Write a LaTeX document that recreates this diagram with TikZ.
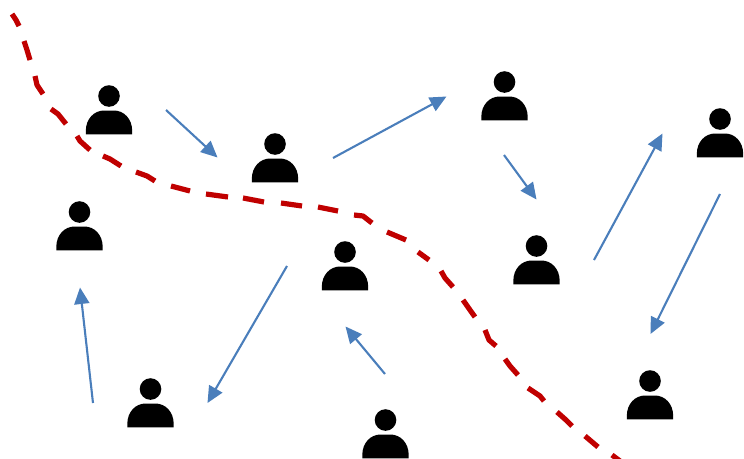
\documentclass[tikz,border=0pt]{standalone}
\usetikzlibrary{arrows.meta}
\definecolor{arrowblue}{HTML}{4A7EBB}
\definecolor{boundaryred}{HTML}{C00000}
\tikzset{
  x=1pt,y=-1pt,
  flow/.style={draw=arrowblue,line width=2.1pt,-{Triangle[length=16.5pt,width=15pt]}},
  boundary/.style={draw=boundaryred,line width=5.2pt,line join=round},
  person/.pic={
    \fill[black] (0,0) circle (10.8);
    \fill[black] (-23.2,38.4) -- (-23.2,35) .. controls (-23.2,23) and (-15,14.5) .. (-5,14.5)
      -- (5,14.5) .. controls (15,14.5) and (23.2,23) .. (23.2,35) -- (23.2,38.4) -- cycle;
  }
}
\begin{document}
\begin{tikzpicture}
\useasboundingbox (0,0) rectangle (744,458);
\clip (0,0) rectangle (744,458);
\foreach \n/\px/\py in {a/109/96,b/275/144,c/504.5/82,d/720/119,e/79.5/212,f/345/252,g/536.5/246,h/150.5/389,i/385.5/420,j/650/381}
  \pic (\n) at (\px,\py) {person};
\foreach \n/\px/\py in {a1/166/110,a2/217.5/157.5,b1/333/158,b2/446.5/96.5,c1/504/155,c2/536.5/199.5,d1/594/260,d2/662.5/133.5,e1/720/194,e2/650.5/334,f1/287/266,f2/207.5/403,g1/385/374,g2/345.5/326.5,h1/93/403,h2/80/287.5}
  \coordinate (\n) at (\px,\py);
\draw[flow] (a1) -- (a2);
\draw[flow] (b1) -- (b2);
\draw[flow] (c1) -- (c2);
\draw[flow] (d1) -- (d2);
\draw[flow] (e1) -- (e2);
\draw[flow] (f1) -- (f2);
\draw[flow] (g1) -- (g2);
\draw[flow] (h1) -- (h2);
\draw[boundary]
  (12,14) -- (16,20) -- (19,26)
  (24,41) -- (27,50) -- (30,60)
  (35,76) -- (37,85) -- (43,94)
  (51,109) -- (58,114) -- (66,124)
  (77,136) -- (80,141) -- (90,150)
  (103,156) -- (110,159) -- (121,166)
  (136,172) -- (147,176) -- (155,181)
  (171,186) -- (190,191)
  (206,194) -- (228,197)
  (243,198) -- (264,202)
  (281,203) -- (302,206)
  (318,207) -- (338,211)
  (354,215) -- (363,216) -- (372,223)
  (387,232) -- (406,240)
  (418,252) -- (429,260)
  (441,271) -- (445,278) -- (453,287)
  (463,300) -- (470,310) -- (475,317)
  (485,330) -- (489,340) -- (496,346)
  (505,359) -- (510,366) -- (518,375)
  (528,388) -- (540,396) -- (544,401)
  (557,412) -- (566,420) -- (572,426)
  (585,436) -- (598,447)
  (612,455) -- (620,461);
\end{tikzpicture}
\end{document}
